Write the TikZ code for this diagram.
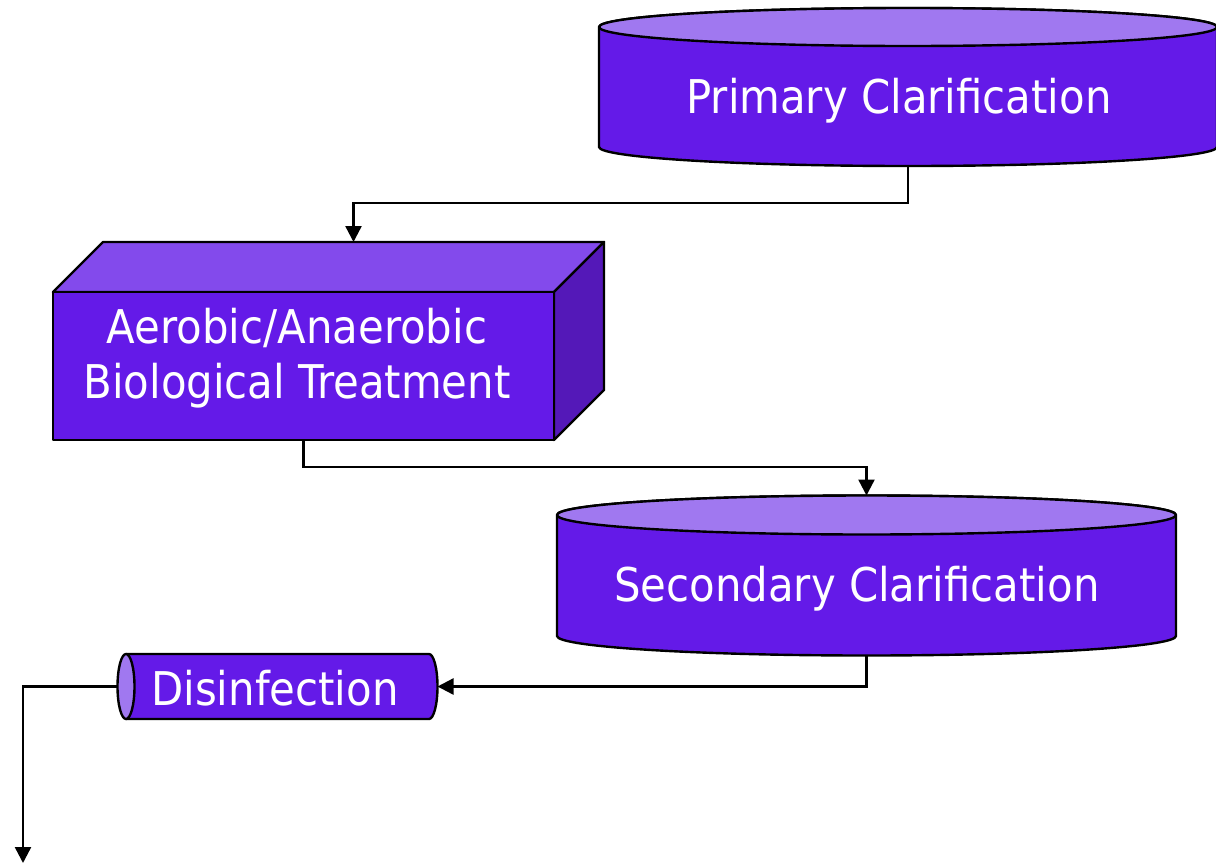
\documentclass[tikz,border=0pt]{standalone}
\usepackage{fontspec}
\setmainfont{DejaVu Sans Condensed}
\usetikzlibrary{arrows.meta}
\definecolor{bodyc}{HTML}{641AE8}
\definecolor{capc}{HTML}{A078F0}
\definecolor{boxtop}{HTML}{834AEC}
\definecolor{boxside}{HTML}{5418B8}
\begin{document}
\begin{tikzpicture}[x=1pt,y=1pt,
  outl/.style={draw=black, line width=2.4pt, line join=round},
  lbl/.style={text=white, font=\fontsize{46.5}{55}\selectfont, inner sep=0pt, anchor=base},
  frame/.style={inner sep=0pt, outer sep=0pt, draw=none},
  flow/.style={draw=black, line width=2.4pt, -{Triangle[length=16pt,width=16pt]}}]
\useasboundingbox (0,0) rectangle (1216,-865);
% Primary Clarification cylinder
\path[outl, fill=bodyc] (599,-27) -- (599,-147)
  arc[start angle=180, end angle=360, x radius=309, y radius=19]
  -- (1217,-27) arc[start angle=0, end angle=180, x radius=309, y radius=19] -- cycle;
\path[outl, fill=capc] (908,-27) ellipse [x radius=309, y radius=19];
\node[frame, minimum width=618, minimum height=158] (pc) at (908,-87) {};
\node[lbl] (pcT) at (899,-113) {Primary Clarification};
% Biological treatment box
\path[outl, fill=boxtop] (53,-292) -- (103,-242) -- (604,-242) -- (554,-292) -- cycle;
\path[outl, fill=boxside] (554,-292) -- (604,-242) -- (604,-390) -- (554,-440) -- cycle;
\path[outl, fill=bodyc] (53,-292) rectangle (554,-440);
\node[frame, minimum width=501, minimum height=148] (bt) at (303.5,-366) {};
\coordinate (btTop) at (353.5,-242);
\node[lbl] (btT1) at (297,-343) {Aerobic/Anaerobic};
\node[lbl] (btT2) at (297,-398) {Biological Treatment};
% Secondary Clarification cylinder
\path[outl, fill=bodyc] (557,-515) -- (557,-636)
  arc[start angle=180, end angle=360, x radius=309.5, y radius=19.5]
  -- (1176,-515) arc[start angle=0, end angle=180, x radius=309.5, y radius=19.5] -- cycle;
\path[outl, fill=capc] (866.5,-515) ellipse [x radius=309.5, y radius=19.5];
\node[frame, minimum width=619, minimum height=160] (sc) at (866.5,-575.5) {};
\node[lbl] (scT) at (857,-601) {Secondary Clarification};
% Disinfection horizontal cylinder
\path[outl, fill=bodyc] (126,-654) -- (429,-654)
  arc[start angle=90, end angle=-90, x radius=8.5, y radius=32.5]
  -- (126,-719) -- cycle;
\path[outl, fill=capc] (126,-686.5) ellipse [x radius=8.5, y radius=32.5];
\node[frame, minimum width=320, minimum height=65] (ds) at (277.5,-686.5) {};
\node[lbl] (dsT) at (275,-705) {Disinfection};
\coordinate (out) at (23,-863);
% connectors
\draw[flow] (pc.south) -- ++(0,-37) -| (btTop);
\draw[flow] (bt.south) -- ++(0,-27) -| (sc.north);
\draw[flow] (sc.south) |- (ds.east);
\draw[flow] (ds.west) -| (out);
\end{tikzpicture}
\end{document}
